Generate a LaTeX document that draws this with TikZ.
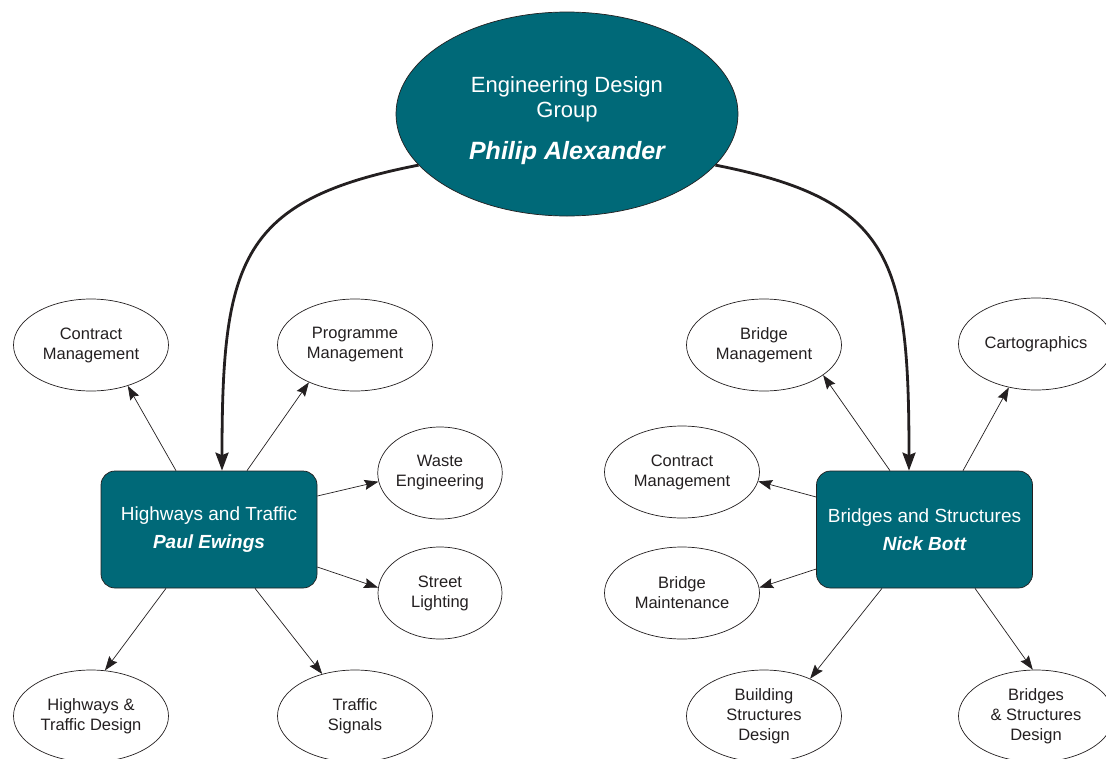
\documentclass[tikz,border=0pt]{standalone}
\usepackage{fontspec}
\setmainfont{Liberation Sans}
\usetikzlibrary{arrows.meta,shapes.geometric}
\definecolor{edgteal}{RGB}{0,105,120}
\definecolor{inkgray}{RGB}{35,31,32}

\begin{document}
\begin{tikzpicture}[
        x=1pt, y=-1pt,
        group/.style={ellipse, draw=inkgray, line width=0.7pt, fill=edgteal, text=white, minimum width=342pt, minimum height=204pt, inner sep=0pt, align=center, font=\fontsize{22}{25}\selectfont},
        unit/.style={draw=inkgray, line width=0.7pt, rounded corners=14pt, fill=edgteal, text=white, minimum width=216pt, minimum height=117pt, align=center, font=\fontsize{19}{28}\selectfont},
        task/.style={ellipse, draw=inkgray, line width=0.7pt, minimum width=155pt, minimum height=92pt, inner sep=0pt, align=center, text=inkgray, font=\fontsize{16.5}{20}\selectfont},
        narrow/.style={task, minimum width=124pt},
        link/.style={-{Stealth[length=14pt, width=10pt, inset=2pt]}, line width=0.7pt, draw=inkgray},
        feed/.style={-{Stealth[length=18pt, width=13pt, inset=2.5pt]}, line width=2.8pt, draw=inkgray}
    ]
        \useasboundingbox (0,0) rectangle (1106,758);

        % Group head
        \node[group] (edg) at (567,114) {\rule{0pt}{29pt}Engineering Design\\Group\\[17pt]{\fontsize{25}{28}\selectfont\bfseries\itshape Philip Alexander}};

        % Sections
        \node[unit] (hwy) at (209,529.5) {Highways and Traffic\\{\bfseries\itshape Paul Ewings}};
        \node[unit] (brs) at (924.5,529.5) {Bridges and Structures\\{\bfseries\itshape Nick Bott}};

        % Highways and Traffic teams
        \node[task] (cmL) at (91,345) {Contract\\Management};
        \node[task] (prog) at (355,345) {Programme\\Management};
        \node[narrow] (waste) at (440,473) {Waste\\Engineering};
        \node[narrow] (light) at (440,593) {Street\\Lighting};
        \node[task] (htd) at (91,716) {Highways \&\\Traffic Design};
        \node[task] (sig) at (355,716) {Traffic\\Signals};

        % Bridges and Structures teams
        \node[task] (bman) at (764,345) {Bridge\\Management};
        \node[task] (carto) at (1036,344) {Cartographics};
        \node[task] (cmR) at (682,472) {Contract\\Management};
        \node[task] (bmaint) at (682,593) {Bridge\\Maintenance};
        \node[task] (bsd) at (764,716) {Building\\Structures\\Design};
        \node[task] (bsdes) at (1036,716) {Bridges\\\& Structures\\Design};

        % Head to sections
        \draw[feed] (edg.199) .. controls (240,200) and (222,260) .. ([xshift=13pt]hwy.north);
        \draw[feed] (edg.341) .. controls (893,200) and (909,260) .. ([xshift=-15.5pt]brs.north);

        % Highways and Traffic links
        \draw[link] ([xshift=-33pt]hwy.north) -- (cmL.312);
        \draw[link] ([xshift=38pt]hwy.north) -- (prog.219);
        \draw[link] ([yshift=33.5pt]hwy.east) -- (waste.188);
        \draw[link] ([yshift=-37.5pt]hwy.east) -- (light.175);
        \draw[link] ([xshift=-43pt]hwy.south) -- (htd.73);
        \draw[link] ([xshift=46pt]hwy.south) -- (sig.128);

        % Bridges and Structures links
        \draw[link] ([xshift=-34.5pt]brs.north) -- (bman.333);
        \draw[link] ([xshift=38.5pt]brs.north) -- (carto.238);
        \draw[link] ([yshift=32.5pt]brs.west) -- (cmR.353);
        \draw[link] ([yshift=-39.5pt]brs.west) -- (bmaint.4);
        \draw[link] ([xshift=-42.5pt]brs.south) -- (bsd.39.5);
        \draw[link] ([xshift=50.5pt]brs.south) -- (bsdes.94);
\end{tikzpicture}
\end{document}
